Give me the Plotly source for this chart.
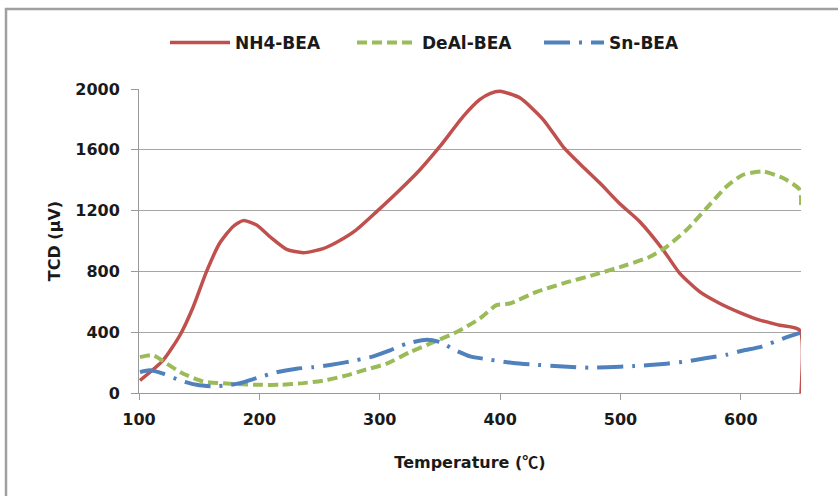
import plotly.graph_objects as go

# NH4-BEA (red, solid)
nh4_x = [100.8, 120, 134, 145, 156, 167, 178, 186.6, 197.7, 208.8, 222.7, 236.5, 253, 265,
         280, 297, 316.8, 333.4, 350, 369.4, 383, 392, 400, 416.4, 435.8, 452.4, 466,
         482.9, 499.5, 516.1, 535.5, 549.3, 566, 582.6, 599.2, 615.8, 632.4, 649, 650]
nh4_y = [83, 215, 380, 566, 797, 985, 1094, 1134, 1105, 1028, 945, 923, 950, 995,
         1070, 1190, 1337, 1469, 1622, 1820, 1930, 1972, 1985, 1942, 1799, 1620, 1510,
         1381, 1245, 1127, 941, 787, 665, 589, 529, 479, 446, 413, 0]

# DeAl-BEA (green, dashed)
deal_x = [100.8, 111.9, 123, 136.8, 153.4, 175.6, 197.7, 217, 236.5, 255.8, 272.5, 286.3,
          305.7, 325.1, 341.7, 363.9, 383.2, 397, 408.1, 430.3, 452.4, 480.1, 505, 524.4,
          538.3, 554.9, 571.5, 588.1, 601.9, 618.5, 635.1, 649, 650]
deal_y = [236, 248, 193, 127, 76, 61, 54, 54, 65, 85, 116, 149,
          193, 269, 325, 401, 490, 578, 589, 665, 721, 782, 842, 896,
          962, 1073, 1216, 1358, 1436, 1457, 1414, 1337, 1230]

# Sn-BEA (blue, dash-dot)
sn_x = [100.8, 109, 120, 134, 147.8, 161.6, 172.8, 183.9, 197.7, 214.3, 230.9, 244.8, 258.6,
        272.5, 294.6, 308.6, 322.5, 339.1, 350.3, 361.3, 375.1, 391.7, 411.1, 425, 452.4,
        474.6, 488.4, 510.6, 538.3, 555, 571.6, 588.1, 602, 615.8, 635.1, 649]
sn_y = [137, 149, 127, 83, 54, 43, 50, 65, 98, 137, 160, 170, 184,
        203, 241, 281, 325, 351, 335, 287, 241, 219, 197, 188, 175,
        166, 170, 177, 193, 208, 230, 252, 280, 302, 358, 395]

x_ticks = [100, 200, 300, 400, 500, 600]
y_ticks = [0, 400, 800, 1200, 1600, 2000]

FONT = "DejaVu Sans"

fig = go.Figure()
fig.add_trace(go.Scatter(x=nh4_x, y=nh4_y, mode="lines", name="NH4-BEA",
                         line=dict(color="#C0504D", width=3.5, shape="spline", smoothing=0.6)))
fig.add_trace(go.Scatter(x=deal_x, y=deal_y, mode="lines", name="DeAl-BEA",
                         line=dict(color="#9BBB59", width=4, dash="10px,5px", shape="spline", smoothing=0.6)))
fig.add_trace(go.Scatter(x=sn_x, y=sn_y, mode="lines", name="Sn-BEA",
                         line=dict(color="#4F81BD", width=4, dash="26px,9px,3px,9px", shape="spline", smoothing=0.6)))

L, R, T, B = 139, 37, 89, 103
W, H = 838, 496
pw, ph = W - L - R, H - T - B

fig.update_layout(
    width=W, height=H,
    margin=dict(l=L, r=R, t=T, b=B),
    paper_bgcolor="white", plot_bgcolor="white",
    font=dict(family=FONT, size=16, color="#1a1a1a", weight="bold"),
    showlegend=True,
    legend=dict(orientation="h", x=(165 - L) / pw, xanchor="left",
                y=1 + (T - 43) / ph, yanchor="middle",
                font=dict(family=FONT, size=17, weight="bold"),
                itemwidth=60, entrywidth=112, entrywidthmode="pixels",
                tracegroupgap=0, bgcolor="rgba(0,0,0,0)"),
    xaxis=dict(range=[100, 650], tickvals=x_ticks, ticks="outside", ticklen=6,
               tickcolor="#9a9a9a", showline=True, linecolor="#9a9a9a", linewidth=1,
               showgrid=False, zeroline=False, ticklabelstandoff=6,
               tickfont=dict(family=FONT, size=16, weight="bold"),
               title=dict(text="Temperature (<span style='font-family:Noto Sans CJK SC'>℃</span>)",
                          standoff=28, font=dict(family=FONT, size=16, weight="bold"))),
    yaxis=dict(range=[0, 2000], tickvals=y_ticks, ticks="outside", ticklen=7,
               tickcolor="#9a9a9a", showline=True, linecolor="#9a9a9a", linewidth=1,
               showgrid=True, gridcolor="#a6a6a6", gridwidth=1, zeroline=False,
               ticklabelstandoff=8,
               tickfont=dict(family=FONT, size=16, weight="bold"),
               title=dict(text="TCD (μV)", standoff=10,
                          font=dict(family=FONT, size=16, weight="bold"))),
    shapes=[dict(type="path", xref="paper", yref="paper",
                 path=f"M {(6 - L) / pw} -1 L {(6 - L) / pw} {1 + (T - 9) / ph} L 2 {1 + (T - 9) / ph}",
                 line=dict(color="#a0a0a0", width=2.5))],
)

fig.write_html("out.html")
